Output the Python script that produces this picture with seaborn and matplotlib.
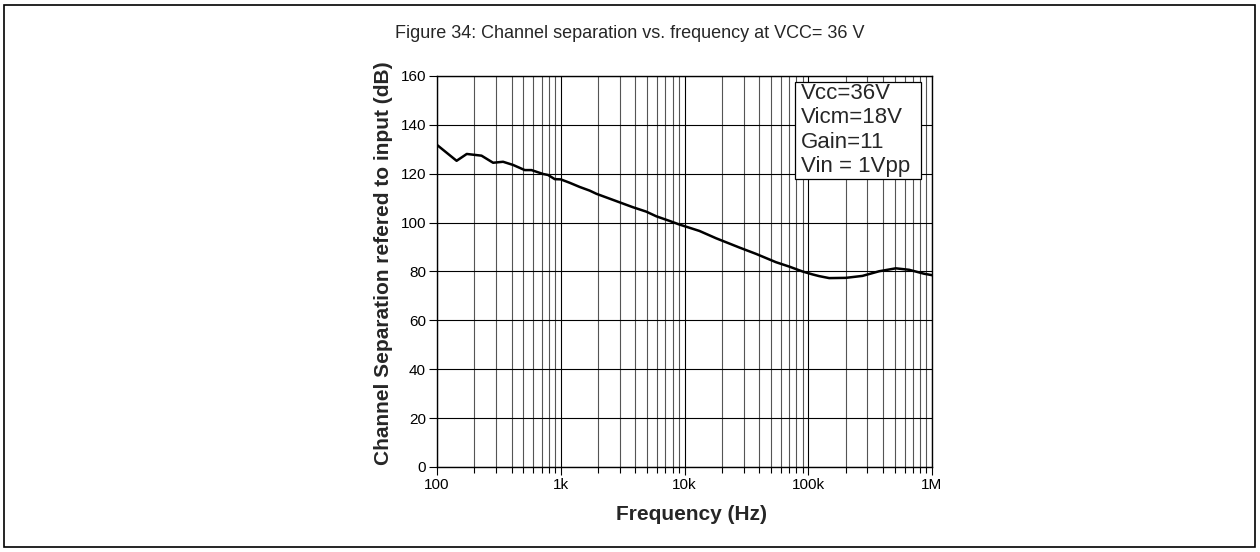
import matplotlib
matplotlib.use("Agg")
import matplotlib.pyplot as plt
from matplotlib import font_manager
from matplotlib.patches import Rectangle
from matplotlib.ticker import LogLocator, FixedLocator, FixedFormatter, NullFormatter
import numpy as np
import pandas as pd
import seaborn as sns

# Measured channel separation curve
freq_hz = [100, 144, 174, 229, 284, 342, 412, 512, 580, 720, 790, 894, 1000,
           1182, 1422, 1713, 1941, 2813, 3830, 4910, 5910, 7570, 9120,
           13200, 18000, 27800, 37900, 54900, 70300, 90000, 108400, 122700,
           147700, 201300, 274100, 374000, 509800, 653100, 861200, 1000000]
separation_db = [131.8, 125.3, 128.1, 127.4, 124.5, 124.9, 123.6, 121.5, 121.5,
                 119.9, 119.5, 117.8, 117.7, 116.3, 114.6, 113.1, 111.8, 108.8,
                 106.3, 104.5, 102.6, 100.7, 99.2, 96.6, 93.6, 89.8, 87.2,
                 83.8, 82.0, 80.0, 78.8, 78.1, 77.3, 77.4, 78.2, 80.1, 81.3,
                 80.7, 79.1, 78.5]

x_ticks = [100, 1e3, 1e4, 1e5, 1e6]
x_tick_labels = ["100", "1k", "10k", "100k", "1M"]
y_ticks = [0, 20, 40, 60, 80, 100, 120, 140, 160]

conditions = ["Vcc=36V", "Vicm=18V", "Gain=11", "Vin = 1Vpp"]
title = "Figure 34: Channel separation vs. frequency at VCC= 36 V"

sns.set_theme(style="white")
plt.rcParams["font.family"] = ["Liberation Sans", "DejaVu Sans"]

installed = {f.name for f in font_manager.fontManager.ttflist}
if "Liberation Sans Narrow" in installed:
    title_family, title_size = ["Liberation Sans Narrow", "Liberation Sans"], 15.5
else:
    title_family, title_size = ["Liberation Sans", "DejaVu Sans"], 13

df = pd.DataFrame({"freq": freq_hz, "sep": separation_db})

fig = plt.figure(figsize=(12.6, 5.52), dpi=100)
ax = fig.add_axes([437 / 1260, 1 - 467 / 552, (932 - 437) / 1260, (467 - 76) / 552])

sns.lineplot(data=df, x="freq", y="sep", ax=ax, color="black", linewidth=1.8, zorder=3)

ax.set_xscale("log")
ax.set_xlim(100, 1e6)
ax.set_ylim(0, 160)

ax.xaxis.set_major_locator(FixedLocator(x_ticks))
ax.xaxis.set_major_formatter(FixedFormatter(x_tick_labels))
ax.xaxis.set_minor_locator(LogLocator(base=10, subs=np.arange(2, 10)))
ax.xaxis.set_minor_formatter(NullFormatter())
ax.set_yticks(y_ticks)

ax.grid(which="major", axis="both", color="black", linewidth=0.8)
ax.grid(which="minor", axis="x", color="#555555", linewidth=0.8)
ax.set_axisbelow(True)

for s in ax.spines.values():
    s.set_color("black")
    s.set_linewidth(1.0)

ax.tick_params(axis="both", which="major", direction="out", length=6, width=0.8,
               color="black", labelsize=11, labelcolor="black", pad=2,
               bottom=True, left=True)
ax.tick_params(axis="x", which="minor", direction="out", length=4, width=0.8,
               color="black", bottom=True)

ax.set_xlabel("Frequency (Hz)", fontsize=15, fontweight="bold")
ax.xaxis.set_label_coords((692 - 437) / 495, (467 - 505) / 391)
ax.set_ylabel("Channel Separation refered to input (dB)", fontsize=15,
              fontweight="bold")
ax.yaxis.set_label_coords((393 - 437) / 495, (467 - 263) / 391)

# Test-condition box in the upper right corner of the plot
ax.add_patch(Rectangle(((795 - 437) / 495, (467 - 179) / 391),
                       (921 - 795) / 495, (179 - 82) / 391,
                       transform=ax.transAxes, facecolor="white",
                       edgecolor="black", linewidth=0.9, zorder=4))
for line, base in zip(conditions, [99, 123.5, 148, 172]):
    ax.text((801 - 437) / 495, (467 - base) / 391, line, transform=ax.transAxes,
            ha="left", va="baseline", fontsize=16, zorder=5)

fig.text(0.5, 1 - 33 / 552, title, ha="center", va="center",
         fontsize=title_size, family=title_family)

fig.patches.append(Rectangle((4 / 1260, 5 / 552), 1251 / 1260, 542 / 552,
                             transform=fig.transFigure, fill=False,
                             edgecolor="black", linewidth=1.2))

fig.savefig("out.png", dpi=100)
